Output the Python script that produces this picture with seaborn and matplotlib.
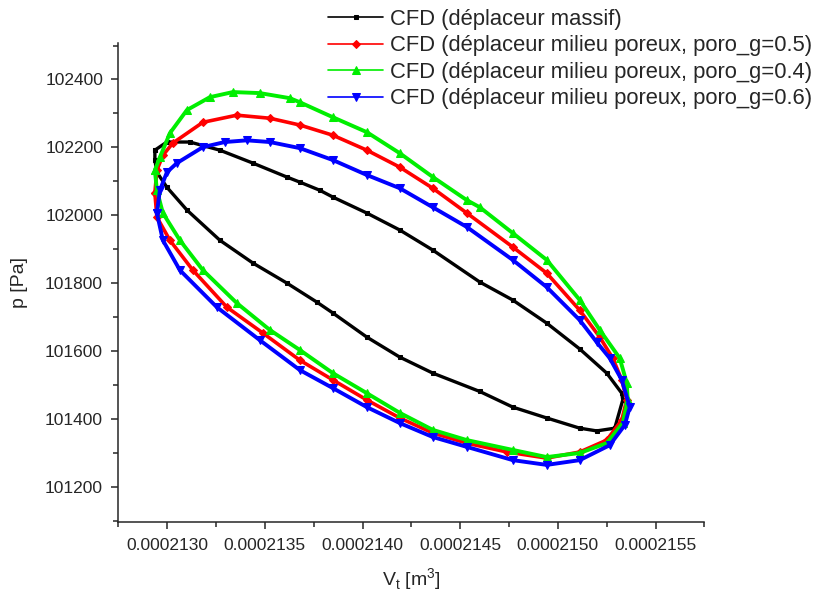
import pandas as pd
import matplotlib
matplotlib.use("Agg")
import matplotlib.pyplot as plt
import seaborn as sns
from matplotlib.ticker import MultipleLocator, FormatStrFormatter

# ==========================================
# DATA: p-V loops (V in 1e-4 m3, p in Pa)
# ==========================================
V_massif = [2.129370, 2.129985, 2.131162, 2.132697, 2.134386, 2.136126, 2.136792,
            2.137815, 2.138481, 2.140221, 2.141910, 2.143599, 2.146004, 2.147693,
            2.149433, 2.151122, 2.152504, 2.153272, 2.153323, 2.152913, 2.151992,
            2.151122, 2.149433, 2.147693, 2.146004, 2.143599, 2.141910,
            2.140221, 2.138481, 2.137662, 2.136126, 2.134386, 2.132697, 2.131008,
            2.129985, 2.129473, 2.129370]
p_massif = [102192, 102216, 102216, 102192, 102154, 102113, 102098,
            102074, 102054, 102007, 101957, 101898, 101804, 101751,
            101683, 101607, 101536, 101477, 101457, 101374, 101366,
            101374, 101404, 101436, 101482, 101536, 101583,
            101642, 101713, 101745, 101801, 101860, 101927, 102016,
            102083, 102127, 102163]

V_poro05 = [2.129370, 2.129473, 2.129780, 2.130292, 2.131827, 2.133567, 2.135256,
            2.136792, 2.138481, 2.140221, 2.141910, 2.143599, 2.145339, 2.147693,
            2.149433, 2.151122, 2.152146, 2.152811, 2.153272, 2.153527, 2.153272,
            2.152504, 2.151122, 2.149433, 2.147386, 2.145339, 2.143599, 2.141910,
            2.140221, 2.138481, 2.136792, 2.134898, 2.133055, 2.131315, 2.130138,
            2.129473]
p_poro05 = [102066, 102133, 102177, 102213, 102274, 102295, 102286,
            102266, 102236, 102192, 102142, 102080, 102007, 101907,
            101830, 101721, 101642, 101580, 101516, 101457, 101398,
            101339, 101304, 101286, 101304, 101330, 101360, 101404,
            101457, 101516, 101574, 101654, 101730, 101839, 101927,
            101995]

V_poro04 = [2.129370, 2.129626, 2.130138, 2.131008, 2.132185, 2.133363, 2.134744,
            2.136280, 2.136792, 2.138481, 2.140221, 2.141910, 2.143599, 2.145339,
            2.146004, 2.147693, 2.149433, 2.151122, 2.152146, 2.153169, 2.153527,
            2.153579, 2.153323, 2.152504, 2.151122, 2.149433, 2.147693, 2.145339,
            2.143599, 2.141910, 2.140221, 2.138481, 2.136792, 2.135256, 2.133567,
            2.131827, 2.130650, 2.129780, 2.129473]
p_poro04 = [102133, 102171, 102242, 102310, 102348, 102363, 102360,
            102345, 102333, 102289, 102245, 102183, 102113, 102045,
            102024, 101948, 101869, 101751, 101663, 101580, 101507,
            101457, 101389, 101330, 101301, 101289, 101310, 101339,
            101369, 101419, 101477, 101536, 101604, 101663, 101742,
            101839, 101927, 102007, 102074]

V_poro06 = [2.129473, 2.129626, 2.129985, 2.130496, 2.131827, 2.132953, 2.134079,
            2.135256, 2.136792, 2.138481, 2.140221, 2.141910, 2.143599, 2.145339,
            2.147693, 2.149433, 2.151122, 2.151992, 2.152657, 2.153272, 2.153681,
            2.153425, 2.152657, 2.151122, 2.149433, 2.147693, 2.145339, 2.143599,
            2.141910, 2.140221, 2.138481, 2.136792, 2.134744, 2.132544, 2.130650,
            2.129780]
p_poro06 = [102007, 102074, 102127, 102154, 102201, 102216, 102221,
            102216, 102198, 102163, 102119, 102080, 102024, 101966,
            101869, 101789, 101692, 101627, 101580, 101516, 101436,
            101383, 101324, 101280, 101266, 101280, 101319, 101348,
            101389, 101436, 101492, 101545, 101633, 101730, 101839,
            101927]

labels = ["CFD (déplaceur massif)",
          "CFD (déplaceur milieu poreux, poro_g=0.5)",
          "CFD (déplaceur milieu poreux, poro_g=0.4)",
          "CFD (déplaceur milieu poreux, poro_g=0.6)"]
colors = ["black", "red", "#00ee00", "blue"]
markers = ["s", "D", "^", "v"]
msizes = [3.5, 4.0, 5.5, 5.5]
lwidths = [2.4, 2.6, 2.8, 2.8]


def loop_frame(v, p):
    # close the cycle by repeating the first point
    v = list(v) + [v[0]]
    p = list(p) + [p[0]]
    return pd.DataFrame({"V": [x * 1e-4 for x in v], "p": p})


frames = [loop_frame(V_massif, p_massif), loop_frame(V_poro05, p_poro05),
          loop_frame(V_poro04, p_poro04), loop_frame(V_poro06, p_poro06)]

# ==========================================
# PLOT
# ==========================================
sns.set_style("ticks")
plt.rcParams["font.family"] = ["Liberation Sans", "DejaVu Sans"]

fig = plt.figure(figsize=(8.19, 5.99), dpi=100)
ax = fig.add_axes([0.1445, 0.128, 0.7155, 0.800])

for df, lab, c, m, ms, lw in zip(frames, labels, colors, markers, msizes, lwidths):
    sns.lineplot(data=df, x="V", y="p", sort=False, estimator=None, ax=ax,
                 color=c, marker=m, markersize=ms, markeredgecolor=c,
                 linewidth=lw, label=lab)

ax.set_xlim(0.00021275, 0.00021575)
ax.set_ylim(101097, 102507)
ax.xaxis.set_major_locator(MultipleLocator(5e-7))
ax.xaxis.set_minor_locator(MultipleLocator(2.5e-7))
ax.xaxis.set_major_formatter(FormatStrFormatter("%.7f"))
ax.yaxis.set_major_locator(MultipleLocator(200))
ax.yaxis.set_minor_locator(MultipleLocator(100))
ax.yaxis.set_major_formatter(FormatStrFormatter("%d"))

ax.tick_params(which="major", length=5, width=1.1, labelsize=12.5, pad=6)
ax.tick_params(which="minor", length=3.5, width=1.1)
for s in ["left", "bottom"]:
    ax.spines[s].set_linewidth(1.1)
sns.despine(ax=ax)

ax.set_xlabel(r"V$_\mathregular{t}$ [m$^\mathregular{3}$]", fontsize=14, labelpad=10)
ax.set_ylabel("p [Pa]", fontsize=14, labelpad=12)

leg = ax.legend(loc="upper left", bbox_to_anchor=(0.401, 0.985), bbox_transform=fig.transFigure,
                frameon=False, fontsize=15.8, handlelength=2.5, handletextpad=0.3,
                labelspacing=0.25, borderpad=0, borderaxespad=0)
# thin lines in the legend keys, as in the original
for line in leg.get_lines():
    line.set_linewidth(1.2)

fig.savefig("out.png", dpi=100)
